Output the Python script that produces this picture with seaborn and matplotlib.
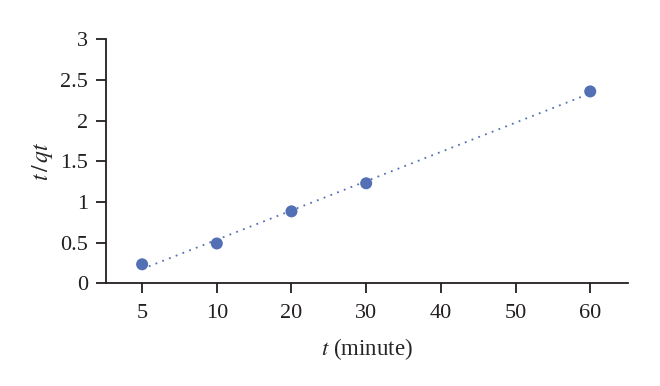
import numpy as np
import pandas as pd
import matplotlib
matplotlib.use("Agg")
import matplotlib.pyplot as plt
import seaborn as sns

# data
tick_labels = ["5", "10", "20", "30", "40", "50", "60"]
t_values = [5, 10, 20, 30, 60]
t_over_qt = [0.234, 0.49, 0.885, 1.23, 2.36]

# x axis is categorical-like: equally spaced ticks
pos = [tick_labels.index(str(t)) for t in t_values]
df = pd.DataFrame({"pos": pos, "y": t_over_qt})

sns.set_style("ticks")
plt.rcParams["font.family"] = ["Liberation Serif", "DejaVu Serif"]
plt.rcParams["mathtext.fontset"] = "stix"

color = "#5470b5"

fig = plt.figure(figsize=(6.6, 3.86), dpi=100)
ax = fig.add_axes([0.161, 0.266, 0.791, 0.632])

sns.regplot(data=df, x="pos", y="y", scatter=False, ci=None, ax=ax,
            line_kws={"color": color, "linestyle": (0, (1, 3)), "linewidth": 1.3})
sns.scatterplot(data=df, x="pos", y="y", ax=ax, color=color, s=75,
                edgecolor="none", zorder=3)

ax.set_xlim(-0.48, 6.51)
ax.set_ylim(0, 3)
ax.set_xticks(range(len(tick_labels)))
ax.set_xticklabels(tick_labels)
ax.set_yticks([0, 0.5, 1, 1.5, 2, 2.5, 3])
ax.set_yticklabels(["0", "0.5", "1", "1.5", "2", "2.5", "3"])

ax.set_xlabel(r"$t$ (minute)", fontsize=16.5, labelpad=9)
ax.set_ylabel(r"$t\,/\,qt$", fontsize=17, labelpad=4)
ax.tick_params(axis="both", labelsize=16, length=7, width=1.3, color="#231f20",
               labelcolor="#231f20")
ax.tick_params(axis="x", pad=8)
ax.tick_params(axis="y", pad=6)
for side in ["left", "bottom"]:
    ax.spines[side].set_linewidth(1.3)
    ax.spines[side].set_color("#231f20")
sns.despine(ax=ax)

fig.savefig("out.png", dpi=100)
